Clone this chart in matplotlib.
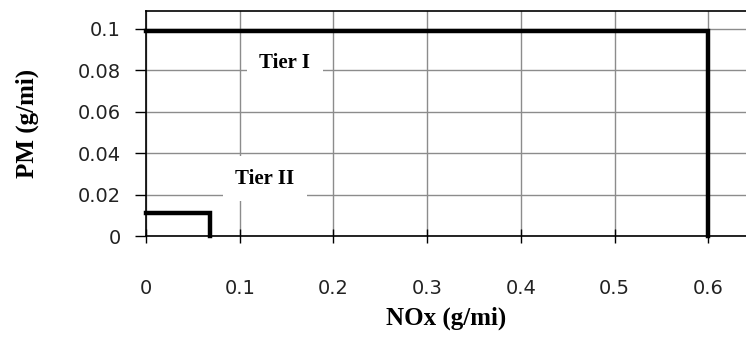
import matplotlib
matplotlib.use("Agg")
import matplotlib.pyplot as plt

# limite Tier I e Tier II (NOx, PM)
tier1_nox = [0.0, 0.6, 0.6]
tier1_pm = [0.099, 0.099, 0.0]
tier2_nox = [0.0, 0.068, 0.068]
tier2_pm = [0.011, 0.011, 0.0]

x_ticks = [0, 0.1, 0.2, 0.3, 0.4, 0.5, 0.6]
x_labels = ["0", "0.1", "0.2", "0.3", "0.4", "0.5", "0.6"]
y_ticks = [0, 0.02, 0.04, 0.06, 0.08, 0.1]
y_labels = ["0", "0.02", "0.04", "0.06", "0.08", "0.1"]

labels = ["Tier I", "Tier II"]
label_pos = [(0.148, 0.0835), (0.127, 0.0275)]

fig = plt.figure(figsize=(7.46, 3.39), dpi=100)
ax = fig.add_axes([0.1957, 0.3038, 0.8043, 0.6638])

ax.set_xlim(0, 0.64)
ax.set_ylim(0, 0.1085)

ax.grid(True, color="#8c8c8c", linewidth=1.0)
ax.set_axisbelow(True)

ax.plot(tier1_nox, tier1_pm, color="black", linewidth=3.2, solid_joinstyle="miter", clip_on=False)
ax.plot(tier2_nox, tier2_pm, color="black", linewidth=3.2, solid_joinstyle="miter", clip_on=False)

serif = ["Liberation Serif", "DejaVu Serif"]
for txt, (xx, yy) in zip(labels, label_pos):
    ax.text(xx, yy, txt, ha="center", va="center", fontsize=15, fontweight="bold",
            family=serif, bbox=dict(facecolor="white", edgecolor="none", pad=9))

ax.set_xticks(x_ticks)
ax.set_xticklabels(x_labels)
ax.set_yticks(y_ticks)
ax.set_yticklabels(y_labels)
ax.tick_params(axis="x", direction="inout", length=10, width=1, pad=26, labelsize=14, labelcolor="#222222")
ax.tick_params(axis="y", direction="out", length=8, width=1, pad=10, labelsize=14, labelcolor="#222222")

ax.spines["right"].set_visible(False)
for s in ["top", "left", "bottom"]:
    ax.spines[s].set_color("black")
    ax.spines[s].set_linewidth(1.2)

ax.set_xlabel("NOx (g/mi)", fontsize=18, fontweight="bold", family=serif, labelpad=6)
ax.set_ylabel("PM (g/mi)", fontsize=18, fontweight="bold", family=serif, labelpad=28)

fig.savefig("out.png", dpi=100)
